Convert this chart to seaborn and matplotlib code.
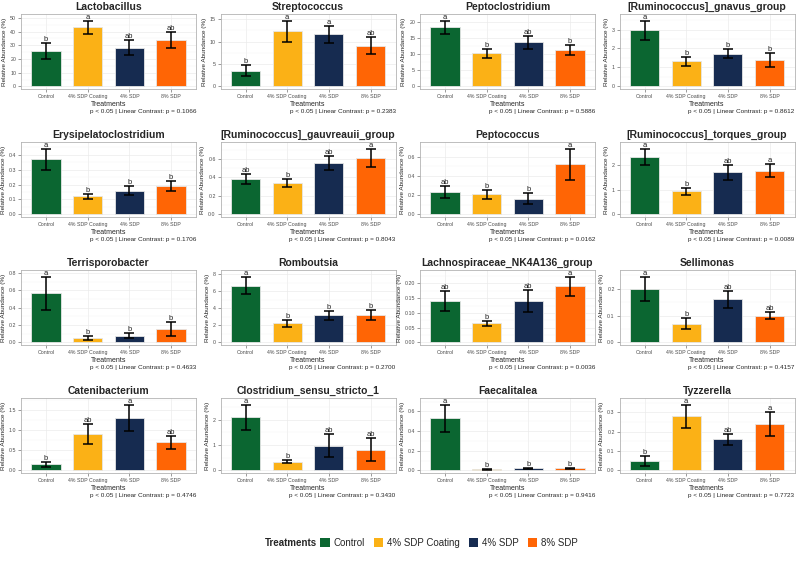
import pandas as pd
import matplotlib.pyplot as plt
import seaborn as sns
import numpy as np
from matplotlib.patches import Patch
from matplotlib.ticker import AutoMinorLocator

# Dados: médias, erros padrão, letras de significância e p do contraste linear
treatments = ['Control', '4% SDP Coating', '4% SDP', '8% SDP']
colors = ['#0b6631', '#fbb116', '#162b50', '#ff6505']

genera = ['Lactobacillus', 'Streptococcus', 'Peptoclostridium', '[Ruminococcus]_gnavus_group',
          'Erysipelatoclostridium', '[Ruminococcus]_gauvreauii_group', 'Peptococcus', '[Ruminococcus]_torques_group',
          'Terrisporobacter', 'Romboutsia', 'Lachnospiraceae_NK4A136_group', 'Sellimonas',
          'Catenibacterium', 'Clostridium_sensu_stricto_1', 'Faecalitalea', 'Tyzzerella']

means = [[26.0, 43.0, 28.3, 33.8], [3.5, 12.3, 11.6, 9.1], [18.4, 10.4, 13.7, 11.4], [2.97, 1.32, 1.73, 1.40],
         [0.37, 0.12, 0.16, 0.19], [0.38, 0.34, 0.55, 0.61], [0.235, 0.21, 0.165, 0.52], [2.33, 0.93, 1.70, 1.77],
         [0.57, 0.05, 0.08, 0.16], [6.7, 2.25, 3.2, 3.2], [0.14, 0.065, 0.14, 0.19], [0.20, 0.07, 0.16, 0.10],
         [0.15, 0.90, 1.30, 0.70], [2.10, 0.35, 0.98, 0.82], [0.53, 0.01, 0.02, 0.02], [0.05, 0.28, 0.16, 0.24]]

ses = [[6.0, 5.0, 5.2, 5.6], [1.2, 2.4, 2.0, 1.9], [2.1, 1.4, 1.9, 1.5], [0.50, 0.23, 0.25, 0.37],
       [0.07, 0.02, 0.03, 0.033], [0.055, 0.04, 0.075, 0.10], [0.06, 0.048, 0.055, 0.165], [0.33, 0.15, 0.30, 0.25],
       [0.19, 0.02, 0.03, 0.08], [1.05, 0.45, 0.5, 0.6], [0.033, 0.008, 0.037, 0.033], [0.045, 0.02, 0.03, 0.012],
       [0.06, 0.25, 0.33, 0.16], [0.50, 0.07, 0.44, 0.45], [0.14, 0.005, 0.008, 0.008], [0.025, 0.06, 0.03, 0.06]]

letters = [['b', 'a', 'ab', 'ab'], ['b', 'a', 'a', 'ab'], ['a', 'b', 'ab', 'b'], ['a', 'b', 'b', 'b'],
           ['a', 'b', 'b', 'b'], ['ab', 'b', 'ab', 'a'], ['ab', 'b', 'b', 'a'], ['a', 'b', 'ab', 'a'],
           ['a', 'b', 'b', 'b'], ['a', 'b', 'b', 'b'], ['ab', 'b', 'ab', 'a'], ['a', 'b', 'ab', 'ab'],
           ['b', 'ab', 'a', 'ab'], ['a', 'b', 'ab', 'ab'], ['a', 'b', 'b', 'b'], ['b', 'a', 'ab', 'a']]

pvals = ['0.1066', '0.2383', '0.5886', '0.8612',
         '0.1706', '0.8043', '0.0162', '0.0089',
         '0.4633', '0.2700', '0.0036', '0.4157',
         '0.4746', '0.3430', '0.9416', '0.7723']

yticks = [[0, 10, 20, 30, 40, 50], [0, 5, 10, 15], [0, 5, 10, 15, 20], [0, 1, 2, 3],
          [0.0, 0.1, 0.2, 0.3, 0.4], [0.0, 0.2, 0.4, 0.6], [0.0, 0.2, 0.4, 0.6], [0, 1, 2],
          [0.0, 0.2, 0.4, 0.6, 0.8], [0, 2, 4, 6, 8], [0.00, 0.05, 0.10, 0.15, 0.20], [0.0, 0.1, 0.2],
          [0.0, 0.5, 1.0, 1.5], [0, 1, 2], [0.0, 0.2, 0.4, 0.6], [0.0, 0.1, 0.2, 0.3]]
ytick_labels = [['0', '10', '20', '30', '40', '50'], ['0', '5', '10', '15'], ['0', '5', '10', '15', '20'], ['0', '1', '2', '3'],
                ['0.0', '0.1', '0.2', '0.3', '0.4'], ['0.0', '0.2', '0.4', '0.6'], ['0.0', '0.2', '0.4', '0.6'], ['0', '1', '2'],
                ['0.0', '0.2', '0.4', '0.6', '0.8'], ['0', '2', '4', '6', '8'], ['0.00', '0.05', '0.10', '0.15', '0.20'], ['0.0', '0.1', '0.2'],
                ['0.0', '0.5', '1.0', '1.5'], ['0', '1', '2'], ['0.0', '0.2', '0.4', '0.6'], ['0.0', '0.1', '0.2', '0.3']]

sns.set_theme(style='white')
plt.rcParams['font.family'] = ['Liberation Sans', 'DejaVu Sans']

fig = plt.figure(figsize=(8, 5.62), dpi=100)
W, H = 800, 562
PW, PH = 175, 75  # tamanho de cada painel em pixels

for k, genus in enumerate(genera):
    r, c = divmod(k, 4)
    left = 21 + 199.5 * c
    top = 14 + 128 * r
    ax = fig.add_axes([left / W, 1 - (top + PH) / H, PW / W, PH / H])

    df = pd.DataFrame({'Treatment': treatments, 'Mean': means[k], 'SE': ses[k], 'Letter': letters[k]})
    sns.barplot(data=df, x='Treatment', y='Mean', hue='Treatment', order=treatments, hue_order=treatments,
                palette=colors, saturation=1, width=0.7, edgecolor='#e6e6e6', linewidth=0.6,
                legend=False, ax=ax, zorder=2)
    ax.errorbar(np.arange(4), df['Mean'], yerr=df['SE'], fmt='none', ecolor='black',
                elinewidth=1.1, capsize=3.6, capthick=1.1, zorder=3)
    upper = df['Mean'] + df['SE']
    ymax = upper.max() * 1.1
    for i in range(4):
        ax.text(i, upper[i], df['Letter'][i], ha='center', va='bottom', fontsize=5.5, color='#222222', zorder=4)

    ax.set_ylim(-0.035 * ymax, ymax)
    ax.set_xlim(-0.6, 3.6)
    ax.set_yticks(yticks[k])
    ax.set_yticklabels(ytick_labels[k])
    ax.yaxis.set_minor_locator(AutoMinorLocator(2))
    ax.grid(which='major', color='#ebebeb', linewidth=0.5, zorder=0)
    ax.grid(which='minor', axis='y', color='#f4f4f4', linewidth=0.3, zorder=0)
    ax.set_axisbelow(True)
    for s in ax.spines.values():
        s.set_color('#b3b3b3')
        s.set_linewidth(0.6)
    ax.tick_params(axis='both', which='major', labelsize=3.8, labelcolor='#4d4d4d', length=2, width=0.4,
                   color='#4d4d4d', pad=1.5, left=True, bottom=True)
    ax.tick_params(which='minor', length=0)
    ax.set_title(genus, fontsize=7.5, fontweight='bold', pad=3)
    ax.set_ylabel('Relative Abundance (%)', fontsize=4.6, labelpad=2)
    ax.set_xlabel('Treatments', fontsize=5, labelpad=1.5)

    fig.text((left + PW) / W, 1 - (top + PH + 22) / H, f'p < 0.05 | Linear Contrast: p = {pvals[k]}',
             ha='right', va='center', fontsize=4.6)

# Legenda
handles = [Patch(facecolor=col, edgecolor='none') for col in colors]
fig.text(265 / W, 1 - 543 / H, 'Treatments', fontsize=7, fontweight='bold', ha='left', va='center')
fig.legend(handles, treatments, loc='center left', bbox_to_anchor=(316 / W, 1 - 543 / H), ncol=4,
           frameon=False, fontsize=7, handlelength=1.0, handleheight=1.0, columnspacing=0.9,
           handletextpad=0.4, borderaxespad=0)

fig.savefig('out.png', dpi=100)
